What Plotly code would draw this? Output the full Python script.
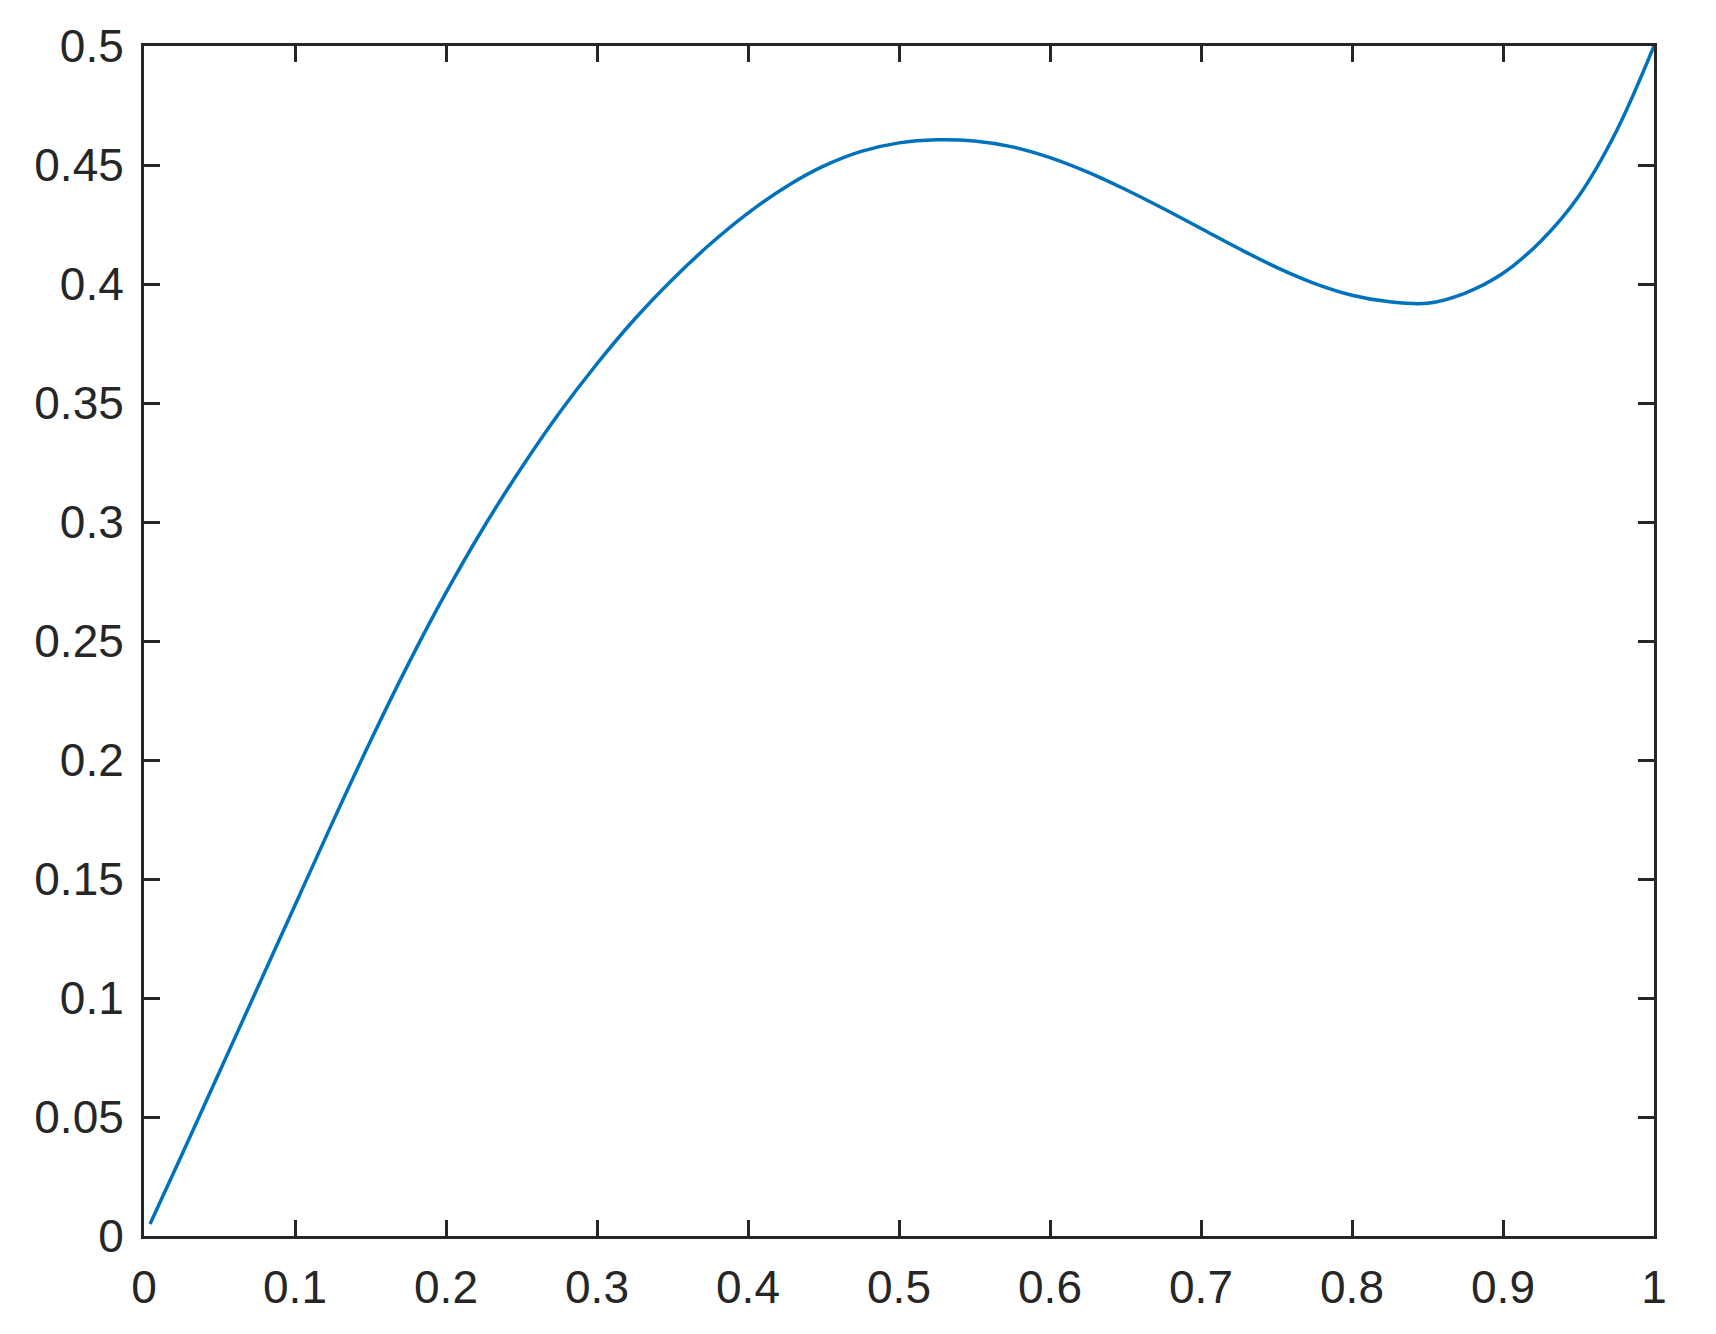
import plotly.graph_objects as go

# values
x_vals = [0.004, 0.025, 0.05, 0.075, 0.1, 0.125, 0.15, 0.175, 0.2, 0.225, 0.25, 0.275,
          0.3, 0.325, 0.35, 0.375, 0.4, 0.425, 0.45, 0.475, 0.5, 0.525, 0.55, 0.575,
          0.6, 0.625, 0.65, 0.675, 0.7, 0.725, 0.75, 0.775, 0.8, 0.825, 0.85, 0.875,
          0.9, 0.925, 0.95, 0.975, 1.0]
y_vals = [0.005, 0.034, 0.069, 0.104, 0.139, 0.174, 0.208, 0.2403, 0.2703, 0.2978, 0.3228, 0.3458,
          0.3665, 0.3853, 0.4019, 0.4168, 0.4298, 0.4408, 0.4495, 0.4557, 0.4593, 0.4606, 0.4601, 0.4576,
          0.4531, 0.447, 0.4397, 0.4317, 0.4233, 0.4149, 0.407, 0.4003, 0.3953, 0.3925, 0.3919, 0.3962,
          0.4045, 0.418, 0.4368, 0.4641, 0.5]

x_ticks = [0, 0.1, 0.2, 0.3, 0.4, 0.5, 0.6, 0.7, 0.8, 0.9, 1]
x_labels = ['0', '0.1', '0.2', '0.3', '0.4', '0.5', '0.6', '0.7', '0.8', '0.9', '1']
y_ticks = [0, 0.05, 0.1, 0.15, 0.2, 0.25, 0.3, 0.35, 0.4, 0.45, 0.5]
y_labels = ['0', '0.05', '0.1', '0.15', '0.2', '0.25', '0.3', '0.35', '0.4', '0.45', '0.5']

axis_col = '#262626'

fig = go.Figure()
fig.add_trace(go.Scatter(x=x_vals, y=y_vals, mode='lines', line=dict(color='#0072BD', width=3.5, shape='spline'),
                         showlegend=False))

axis_style = dict(showline=True, linecolor=axis_col, linewidth=3, mirror='ticks', ticks='inside',
                  ticklen=16, tickwidth=3, tickcolor=axis_col, showgrid=False, zeroline=False,
                  tickfont=dict(family='Liberation Sans, Arial, sans-serif', size=46, color=axis_col))

fig.update_xaxes(range=[0, 1], tickvals=x_ticks, ticktext=x_labels, ticklabelstandoff=9, **axis_style)
fig.update_yaxes(range=[0, 0.5], tickvals=y_ticks, ticktext=y_labels, ticklabelstandoff=8, **axis_style)

# page body adds 8px around the figure
fig.update_layout(width=1700, height=1318, plot_bgcolor='white', paper_bgcolor='white',
                  margin=dict(l=136, r=54, t=32, b=90))

fig.write_html("out.html")
